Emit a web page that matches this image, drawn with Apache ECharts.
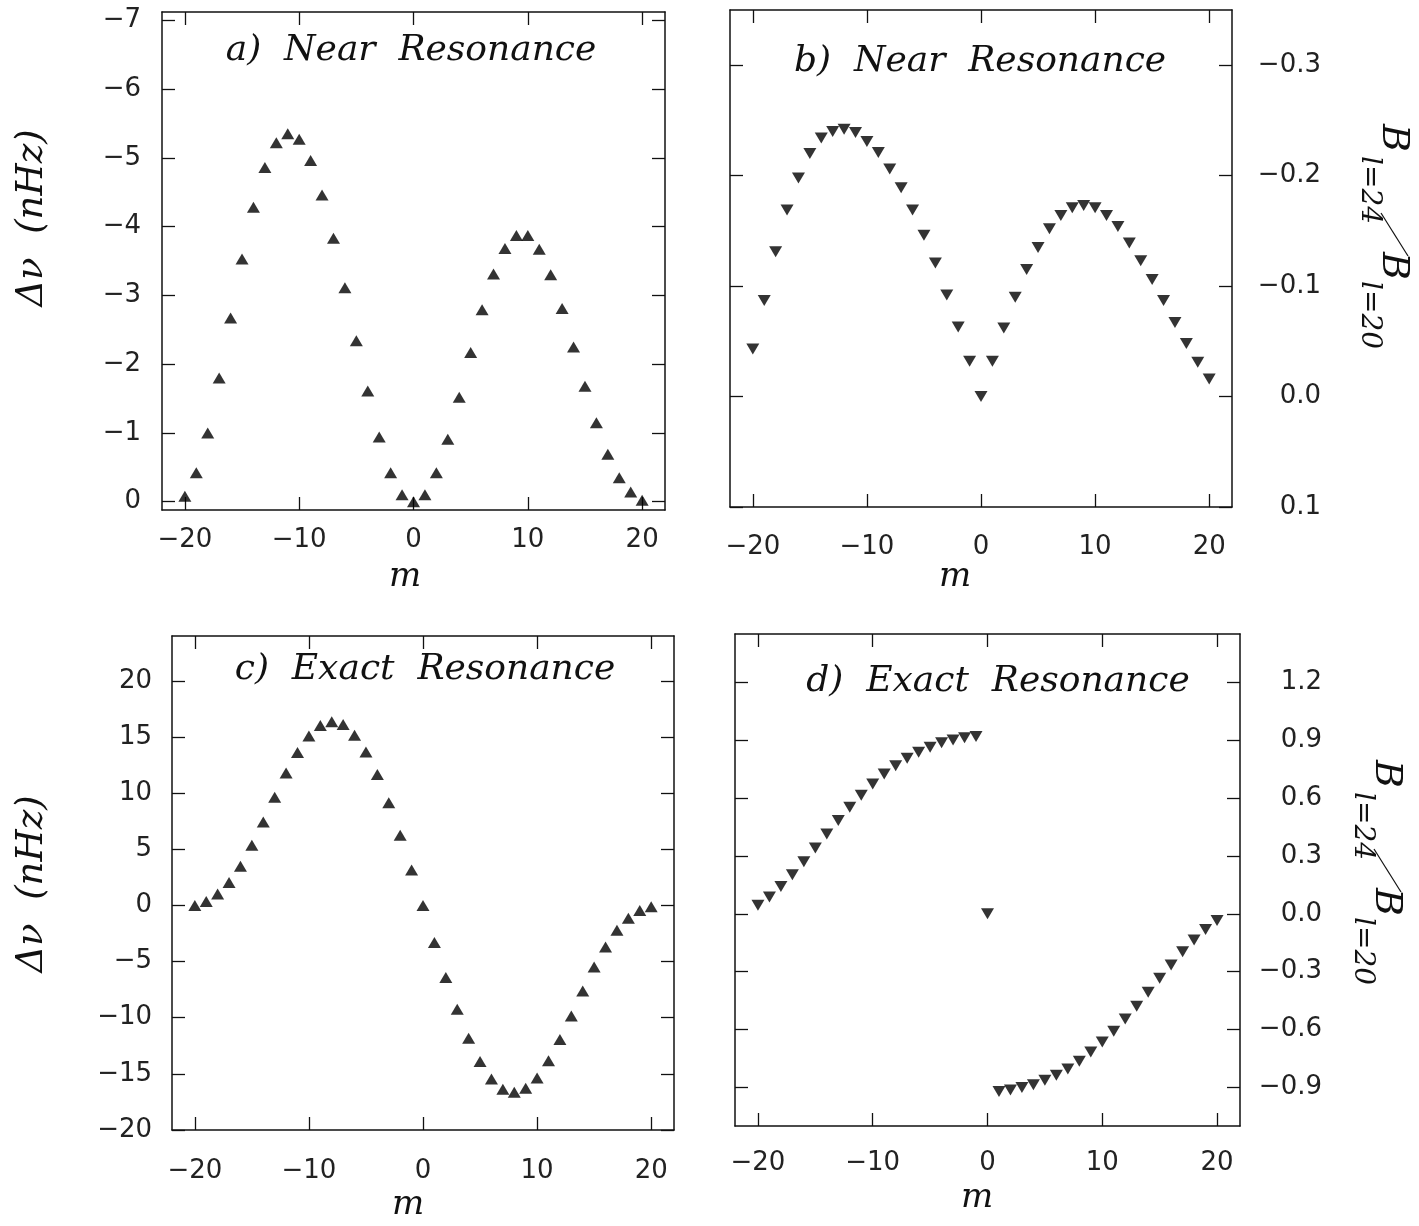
<!DOCTYPE html>
<html>
<head>
<meta charset="utf-8">
<title>Near / Exact Resonance</title>
<script src="https://cdn.jsdelivr.net/npm/echarts@6/dist/echarts.min.js"></script>
<style>
  html, body { margin: 0; padding: 0; background: #fff; }
  #chart { width: 1419px; height: 1226px; }
</style>
</head>
<body>
<div id="chart"></div>
<script>
// azimuthal order m, same for all four panels
var mValues = [-20,-19,-18,-17,-16,-15,-14,-13,-12,-11,-10,-9,-8,-7,-6,-5,-4,-3,-2,-1,0,
               1,2,3,4,5,6,7,8,9,10,11,12,13,14,15,16,17,18,19,20];

// a) near resonance, delta nu (nHz)
var nearShift = [-0.08,-0.42,-1.00,-1.80,-2.67,-3.53,-4.28,-4.86,-5.22,-5.35,-5.27,-4.96,-4.46,-3.83,-3.11,-2.34,-1.61,-0.94,-0.42,-0.10,0.00,
                 -0.10,-0.42,-0.91,-1.52,-2.17,-2.79,-3.31,-3.68,-3.87,-3.87,-3.67,-3.30,-2.81,-2.25,-1.68,-1.15,-0.69,-0.35,-0.14,-0.02];

// b) near resonance, B(l=24)/B(l=20)
var nearRatio = [-0.043,-0.087,-0.131,-0.169,-0.198,-0.220,-0.234,-0.240,-0.242,-0.239,-0.231,-0.221,-0.206,-0.189,-0.169,-0.146,-0.121,-0.092,-0.063,-0.032,0.000,
                 -0.032,-0.062,-0.090,-0.115,-0.135,-0.152,-0.164,-0.171,-0.173,-0.171,-0.164,-0.154,-0.139,-0.123,-0.106,-0.087,-0.067,-0.048,-0.031,-0.016];

// c) exact resonance, delta nu (nHz)
var exactShift = [0.00,0.36,1.02,2.05,3.49,5.36,7.43,9.63,11.80,13.63,15.10,16.03,16.37,16.12,15.16,13.66,11.67,9.15,6.26,3.16,0.00,
                  -3.31,-6.41,-9.24,-11.82,-13.90,-15.46,-16.37,-16.64,-16.28,-15.37,-13.84,-11.94,-9.84,-7.61,-5.48,-3.70,-2.20,-1.14,-0.45,-0.12];

// d) exact resonance, B(l=24)/B(l=20)
var exactRatio = [0.044,0.087,0.141,0.202,0.270,0.341,0.414,0.484,0.552,0.614,0.672,0.724,0.767,0.806,0.837,0.863,0.886,0.901,0.912,0.919,0.000,
                  -0.921,-0.914,-0.901,-0.886,-0.863,-0.837,-0.804,-0.764,-0.717,-0.665,-0.609,-0.545,-0.479,-0.407,-0.334,-0.265,-0.197,-0.136,-0.082,-0.035];

// tick labels
var mTicks = [-20,-10,0,10,20];
var nearShiftTicks = [-7,-6,-5,-4,-3,-2,-1,0];
var nearRatioTicks = [-0.3,-0.2,-0.1,0,0.1];
var exactShiftTicks = [-20,-15,-10,-5,0,5,10,15,20];
var exactRatioTicks = [-0.9,-0.6,-0.3,0,0.3,0.6,0.9,1.2];

var chart = echarts.init(document.getElementById("chart"), null, {renderer:"canvas"});

var INK = "#111";
var LABEL_INK = "#222";
var LABEL_FONT = "DejaVu Sans";
var SERIF = '"DejaVu Serif", "Liberation Serif", serif';

function minus(s){
	return String(s).replace("-", "\u2212");
}
function intFmt(v){ return minus(Math.round(v)); }
function decFmt(v){ return minus((Math.abs(v) < 1e-9 ? 0 : v).toFixed(1)); }

function pairs(ys){
	var out = [];
	for(var i=0;i<mValues.length;i++){
		out.push([mValues[i], ys[i]]);
	}
	return out;
}

// one box: bottom x with labels, top x mirror, y on both sides
function xAxes(g, labelMargin){
	var base = {
		type:"value", gridIndex:g, min:-22, max:22,
		splitLine:{show:false},
		axisLine:{show:true, onZero:false, lineStyle:{color:INK, width:1.5}},
		axisTick:{show:true, inside:true, length:13, customValues:mTicks, lineStyle:{color:INK, width:1.3}}
	};
	var bottom = echarts.util.merge({
		position:"bottom",
		axisLabel:{show:true, customValues:mTicks, formatter:intFmt, margin:labelMargin,
			fontFamily:LABEL_FONT, fontSize:26, color:LABEL_INK}
	}, base, true);
	var top = echarts.util.merge({
		position:"top", axisLabel:{show:false}
	}, base, true);
	return [bottom, top];
}

function yAxes(g, min, max, inverse, ticks, fmt, labelSide, labelMargin, labelAlign){
	var base = {
		type:"value", gridIndex:g, min:min, max:max, inverse:inverse,
		splitLine:{show:false},
		axisLine:{show:true, onZero:false, lineStyle:{color:INK, width:1.5}},
		axisTick:{show:true, inside:true, length:13, customValues:ticks, lineStyle:{color:INK, width:1.3}}
	};
	var other = labelSide == "left" ? "right" : "left";
	var labelled = echarts.util.merge({
		position:labelSide,
		axisLabel:{show:true, customValues:ticks, formatter:fmt, margin:labelMargin, align:labelAlign,
			fontFamily:LABEL_FONT, fontSize:26, color:LABEL_INK}
	}, base, true);
	var mirror = echarts.util.merge({
		position:other, axisLabel:{show:false}
	}, base, true);
	return [labelled, mirror];
}

var grids = [
	{left:162, top:12, width:503, height:498},
	{left:730, top:10, width:502, height:497},
	{left:172, top:636, width:502, height:494},
	{left:735, top:634, width:505, height:492}
];

var xs = [].concat(xAxes(0,17), xAxes(1,27), xAxes(2,28), xAxes(3,24));
var ys = [].concat(
	yAxes(0, -7.12, 0.12, true, nearShiftTicks, intFmt, "left", 21, "right"),
	yAxes(1, -0.35, 0.1, true, nearRatioTicks, decFmt, "right", 89, "right"),
	yAxes(2, -20, 24, false, exactShiftTicks, intFmt, "left", 20, "right"),
	yAxes(3, -1.1, 1.45, false, exactRatioTicks, decFmt, "right", 82, "right")
);

function scatter(idx, ys, down){
	return {
		type:"scatter",
		xAxisIndex:idx*2, yAxisIndex:idx*2,
		data:pairs(ys),
		symbol:"triangle",
		symbolSize:[13,11],
		symbolRotate: down ? 180 : 0,
		itemStyle:{color:"#000"},
		silent:true,
		animation:false
	};
}

function txt(x, y, s, size, rot, align){
	return {
		type:"text", x:x, y:y, rotation:rot || 0, silent:true,
		style:{text:s, font:"italic " + size + "px " + SERIF, fill:INK,
			align:align || "center", verticalAlign:"middle"}
	};
}

// B_{l=24}/B_{l=20}, read top to bottom
function ratioName(x, y){
	var r = -Math.PI/2;
	return [
		txt(x, y, "B", 38, r, "left"),
		txt(x-24, y+32, "l=24", 28, r, "left"),
		{type:"line", silent:true,
			shape:{x1:x-12, y1:y+89, x2:x+15, y2:y+132},
			style:{stroke:INK, lineWidth:1.2}},
		txt(x, y+128, "B", 38, r, "left"),
		txt(x-24, y+157, "l=20", 28, r, "left")
	];
}

var graphics = [
	txt(411, 51, "a)  Near  Resonance", 36),
	txt(980, 62, "b)  Near  Resonance", 36),
	txt(425, 670, "c)  Exact  Resonance", 36),
	txt(998, 682, "d)  Exact  Resonance", 36),
	txt(405, 577, "m", 34),
	txt(955, 577, "m", 34),
	txt(408, 1205, "m", 34),
	txt(977, 1198, "m", 34),
	txt(32, 218, "\u0394\u03bd  (nHz)", 37, Math.PI/2),
	txt(32, 884, "\u0394\u03bd  (nHz)", 37, Math.PI/2)
].concat(ratioName(1393, 124), ratioName(1386, 760));

var option = {
	backgroundColor:"#fff",
	animation:false,
	grid:grids,
	xAxis:xs,
	yAxis:ys,
	series:[
		scatter(0, nearShift, false),
		scatter(1, nearRatio, true),
		scatter(2, exactShift, false),
		scatter(3, exactRatio, true)
	],
	graphic:graphics
};
chart.setOption(option);
</script>
</body>
</html>
